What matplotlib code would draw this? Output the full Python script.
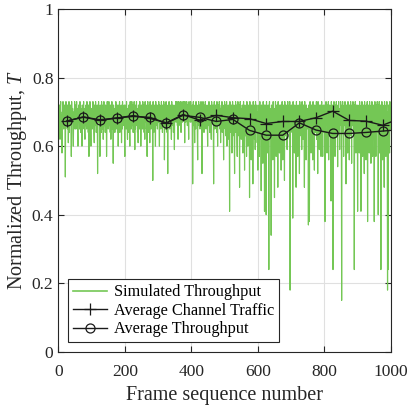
import numpy as np
import matplotlib
matplotlib.use("Agg")
import matplotlib.pyplot as plt

plt.rcParams['font.family'] = ['Liberation Serif', 'DejaVu Serif']
plt.rcParams['mathtext.fontset'] = 'custom'
plt.rcParams['mathtext.rm'] = 'Liberation Serif'
plt.rcParams['mathtext.it'] = 'Liberation Serif:italic'

# Simulated throughput per frame (x 0.01), 50 frames per row
sim_rows = [
    [70,66,72,68,62,71,73,67,69,64, 58,70,66,73,68,65,71,69,72,67, 51,70,73,66,68,71,65,72,69,61, 67,73,64,71,68,66,72,70,57,73, 69,67,71,64,60,68,70,66,73,65],
    [68,72,65,70,73,66,71,64,60,69, 72,67,70,65,73,68,64,71,69,66, 60,72,68,65,70,73,67,71,64,62, 70,66,72,69,65,73,68,71,67,64, 72,57,69,66,73,70,65,60,71,68],
    [71,65,69,73,66,70,64,61,72,68, 66,73,70,64,71,68,72,52,65,70, 73,67,69,71,57,72,66,70,64,73, 68,71,65,72,62,69,73,66,70,67, 64,72,69,71,57,66,73,68,70,65],
    [69,73,66,71,68,64,72,62,70,67, 73,65,70,68,55,72,66,71,69,64, 71,68,73,65,70,67,72,64,69,60, 66,72,70,73,64,68,71,67,72,61, 70,65,73,69,66,71,68,72,64,57],
    [72,67,70,65,73,69,66,62,71,68, 64,72,70,66,60,73,68,71,65,70, 73,66,69,72,64,71,68,73,67,59, 70,65,72,68,73,66,71,64,69,61, 72,67,70,65,73,68,71,60,66,72],
    [68,71,65,73,70,66,72,64,69,62, 73,67,70,72,65,68,57,71,73,66, 70,64,72,69,61,73,67,71,65,70, 72,66,68,50,73,70,64,71,67,72, 69,60,73,66,71,68,72,65,70,67],
    [70,73,66,60,72,68,71,65,69,73, 67,70,64,72,69,66,73,71,56,68, 72,65,70,73,67,69,64,71,52,72, 66,70,73,68,65,71,69,72,67,62, 73,66,70,68,72,64,71,69,59,70],
    [72,69,73,67,71,70,73,66,72,62, 70,73,68,72,71,66,73,69,64,72, 71,73,67,70,72,69,73,68,71,61, 73,70,67,72,69,73,71,66,72,70, 68,62,73,71,69,72,67,73,70,71],
    [70,67,72,49,69,73,66,71,68,61, 72,69,65,73,70,67,71,64,56,72, 68,73,66,70,72,65,71,69,73,67, 70,52,72,66,73,68,71,64,70,72, 67,73,69,65,71,68,72,66,60,70],
    [71,66,73,69,64,72,68,70,65,62, 73,67,71,69,72,66,49,70,73,68, 65,71,72,67,70,64,73,69,60,71, 68,72,66,73,70,65,71,61,69,72, 67,73,64,70,72,68,56,71,66,73],
    [70,65,72,63,69,73,60,67,71,64, 72,68,62,70,41,73,66,71,64,69, 72,58,67,73,63,70,68,72,61,52, 71,66,73,64,69,72,62,57,70,73, 67,71,63,72,48,68,73,65,70,62],
    [71,64,72,67,58,70,73,62,68,53, 72,66,71,63,69,57,73,65,70,60, 72,64,68,71,45,73,62,70,66,56, 72,69,63,71,49,73,65,68,72,62, 70,59,73,66,71,64,72,61,69,53],
    [70,65,72,57,68,73,62,71,66,47, 72,64,70,67,55,73,61,69,72,41, 68,72,63,70,40,73,66,71,64,58, 72,67,24,70,73,62,68,71,65,34, 72,69,63,71,56,73,66,70,64,45],
    [71,66,73,62,57,70,72,64,69,48, 73,67,71,63,58,72,69,65,72,53, 70,64,73,67,56,71,62,72,68,50, 73,66,70,63,72,69,65,59,71,73, 64,70,68,72,62,73,18,69,71,66],
    [72,68,64,71,39,73,66,70,63,58, 72,69,65,71,48,73,62,70,67,57, 72,64,71,68,52,73,63,70,66,72, 69,59,73,65,71,62,72,68,64,48, 73,67,70,63,56,72,69,65,71,66],
    [71,37,72,66,38,70,73,64,69,58, 72,67,70,63,56,73,68,71,65,53, 72,69,64,71,67,73,62,70,68,52, 73,66,71,64,59,72,69,65,72,57, 70,73,63,68,57,71,72,66,69,64],
    [72,38,70,66,73,68,71,58,64,72, 69,73,56,70,66,72,63,71,68,44, 73,65,70,72,67,24,71,64,73,69, 66,57,72,70,63,73,68,71,65,54, 72,69,73,64,70,59,71,67,73,66],
    [70,15,72,67,73,64,71,57,69,72, 66,73,70,63,49,72,68,71,65,58, 73,69,64,71,56,72,67,70,73,63, 70,55,72,68,66,73,71,64,69,24, 72,67,73,63,58,70,72,66,71,41],
    [72,66,71,69,58,73,64,70,68,41, 72,67,73,63,57,71,69,72,65,52, 73,68,70,64,56,72,67,71,73,38, 69,72,65,70,58,73,66,71,68,55, 72,69,73,64,57,70,72,66,71,38],
    [70,73,66,71,57,72,68,64,73,69, 71,40,72,67,73,58,70,65,72,24, 71,68,73,64,56,72,69,70,66,48, 73,67,71,65,57,72,69,73,64,18, 70,24,72,66,71,58,73,68,70,65],
]
sim_throughput = np.array(sim_rows).ravel() / 100.0
frames = np.arange(1, len(sim_throughput) + 1)

# Block averages (every 50 frames)
avg_frames = [25, 75, 125, 175, 225, 275, 325, 375, 425, 475,
              525, 575, 625, 675, 725, 775, 825, 875, 925, 975, 1025]
avg_traffic = [0.673, 0.685, 0.677, 0.682, 0.689, 0.681, 0.668, 0.692, 0.676, 0.690,
               0.683, 0.680, 0.666, 0.672, 0.672, 0.683, 0.702, 0.675, 0.673, 0.661, 0.680]
avg_throughput = [0.673, 0.685, 0.675, 0.682, 0.687, 0.684, 0.667, 0.690, 0.684, 0.672,
                  0.678, 0.646, 0.632, 0.632, 0.668, 0.647, 0.637, 0.637, 0.640, 0.644, 0.648]

fig = plt.figure(figsize=(4.08, 4.11), dpi=100)
ax = fig.add_axes([0.143, 0.144, 0.815, 0.834])

ax.plot(frames, sim_throughput, color='#74c755', lw=0.85, label='Simulated Throughput')
ax.plot(avg_frames, avg_traffic, color='#1a1a1a', lw=1.0, marker='+', ms=8,
        mew=0.9, label='Average Channel Traffic')
ax.plot(avg_frames, avg_throughput, color='#1a1a1a', lw=1.0, marker='o', ms=6.5,
        mfc='none', mew=0.9, label='Average Throughput')

ax.set_xlim(0, 1000)
ax.set_ylim(0, 1)
ax.set_xticks([0, 200, 400, 600, 800, 1000])
ax.set_yticks([0, 0.2, 0.4, 0.6, 0.8, 1])
ax.set_yticklabels(['0', '0.2', '0.4', '0.6', '0.8', '1'])
ax.grid(True, color='#e0e0e0', lw=0.8)
ax.set_axisbelow(True)
ax.tick_params(direction='in', top=True, right=True, labelsize=12.5,
               colors='#262626', length=4, width=0.8)
ax.tick_params(axis='x', pad=9)
for s in ax.spines.values():
    s.set_color('#262626')
    s.set_linewidth(0.8)

ax.set_xlabel('Frame sequence number', fontsize=14.5, color='#262626', labelpad=4)
ax.set_ylabel('Normalized Throughput, $T$', fontsize=14.5, color='#262626', labelpad=2)

leg = ax.legend(loc='lower left', fontsize=11.7, fancybox=False, framealpha=1,
                edgecolor='#262626', borderpad=0.3, labelspacing=0.15,
                handlelength=2.1, handletextpad=0.4, borderaxespad=0.6)
leg.get_frame().set_linewidth(0.8)
leg.get_lines()[0].set_linewidth(1.2)

fig.savefig('out.png', dpi=100)
